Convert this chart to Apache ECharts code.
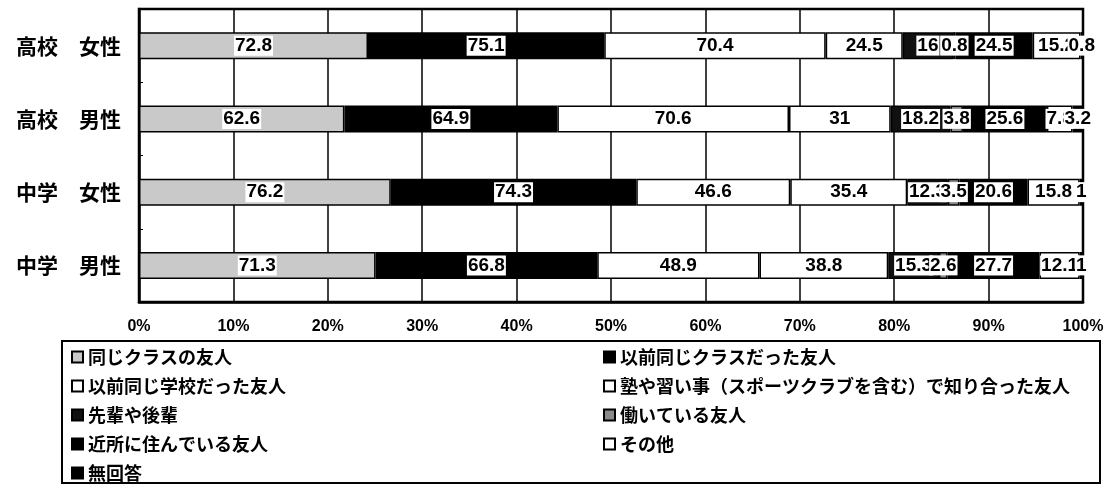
<!DOCTYPE html>
<html>
<head>
<meta charset="utf-8">
<script src="https://cdn.jsdelivr.net/npm/echarts@6/dist/echarts.min.js"></script>
<style>
    html, body { margin: 0; padding: 0; background: #fff; }
    #main { width: 1108px; height: 487px; }
</style>
</head>
<body>
<div id="main"></div>
<script>
// 分类（上から順）
var categories = ['高校　女性', '高校　男性', '中学　女性', '中学　男性'];
// 系列名
var seriesNames = ['同じクラスの友人', '以前同じクラスだった友人', '以前同じ学校だった友人',
    '塾や習い事（スポーツクラブを含む）で知り合った友人', '先輩や後輩', '働いている友人',
    '近所に住んでいる友人', 'その他', '無回答'];
// 各系列の値（%、複数回答）
var sameClass = [72.8, 62.6, 76.2, 71.3];
var formerClass = [75.1, 64.9, 74.3, 66.8];
var formerSchool = [70.4, 70.6, 46.6, 48.9];
var juku = [24.5, 31, 35.4, 38.8];
var senpai = [16, 18.2, 12.3, 15.3];
var working = [0.8, 3.8, 3.5, 2.6];
var neighbor = [24.5, 25.6, 20.6, 27.7];
var other = [15.2, 7.8, 15.8, 12.1];
var noAnswer = [0.8, 3.2, 1, 1];
var xTicks = [0, 10, 20, 30, 40, 50, 60, 70, 80, 90, 100];

(function() {
    var values = [sameClass, formerClass, formerSchool, juku, senpai, working, neighbor, other, noAnswer];
    var colors = ['#c9c9c9', '#000', '#fff', '#fff', '#111', '#8a8a8a', '#000', '#fff', '#000'];

    // 每个分类的合计，用来换算成100%
    var totals = categories.map(function(c, i) {
        var s = 0;
        values.forEach(function(arr) { s += arr[i]; });
        return s;
    });

    var series = values.map(function(arr, k) {
        return {
            name: seriesNames[k],
            type: 'bar',
            stack: 'all',
            barWidth: 27,
            data: arr.map(function(v, i) { return { value: v / totals[i] * 100, raw: v }; }),
            itemStyle: { color: colors[k], borderColor: '#000', borderWidth: 1.5 },
            label: {
                show: true,
                position: 'inside',
                formatter: function(p) { return p.data.raw; },
                color: '#000',
                backgroundColor: '#fff',
                fontFamily: 'Liberation Sans Narrow, Liberation Sans',
                fontWeight: 'bold',
                fontSize: 19,
                padding: [1, 1, 0, 1]
            }
        };
    });

    var legendText = { color: '#000', fontSize: 18, fontWeight: 'bold', fontFamily: 'Noto Sans CJK JP', lineHeight: 20 };

    var option = {
        animation: false,
        grid: {
            left: 139, right: 25, top: 9, bottom: 185,
            show: true, borderColor: '#000', borderWidth: 2.5
        },
        xAxis: {
            type: 'value',
            min: 0, max: 100, interval: 10,
            axisLine: { show: true, lineStyle: { color: '#000', width: 2.5 } },
            axisTick: { show: false },
            splitLine: { show: true, lineStyle: { color: '#000', width: 1.5 } },
            axisLabel: {
                margin: 17,
                color: '#000',
                fontFamily: 'Liberation Sans Narrow, Liberation Sans',
                fontWeight: 'bold',
                fontSize: 16,
                formatter: function(v) { return xTicks.indexOf(v) >= 0 ? v + '%' : ''; }
            }
        },
        yAxis: {
            type: 'category',
            inverse: true,
            data: categories,
            axisLine: { show: true, lineStyle: { color: '#000', width: 2.5 } },
            axisTick: { show: true, inside: true, length: 4, lineStyle: { color: '#000' } },
            axisLabel: {
                margin: 18,
                color: '#000',
                fontFamily: 'Noto Sans CJK JP',
                fontWeight: 'bold',
                fontSize: 21
            }
        },
        legend: [{
            left: 66, top: 342, height: 142,
            orient: 'vertical',
            icon: 'rect', itemWidth: 11, itemHeight: 11, itemGap: 9,
            selectedMode: false,
            textStyle: legendText,
            data: [seriesNames[0], seriesNames[2], seriesNames[4], seriesNames[6], seriesNames[8]]
        }, {
            left: 598, top: 342, height: 142,
            orient: 'vertical',
            icon: 'rect', itemWidth: 11, itemHeight: 11, itemGap: 9,
            selectedMode: false,
            textStyle: legendText,
            data: [seriesNames[1], seriesNames[3], seriesNames[5], seriesNames[7]]
        }],
        // 凡例の外枠
        graphic: [{
            type: 'rect',
            z: -1,
            shape: { x: 62, y: 341, width: 1038, height: 142 },
            style: { fill: 'none', stroke: '#000', lineWidth: 2 }
        }],
        series: series
    };

    var myechart = echarts.init(document.getElementById('main'));
    myechart.setOption(option);
})();
</script>
</body>
</html>
